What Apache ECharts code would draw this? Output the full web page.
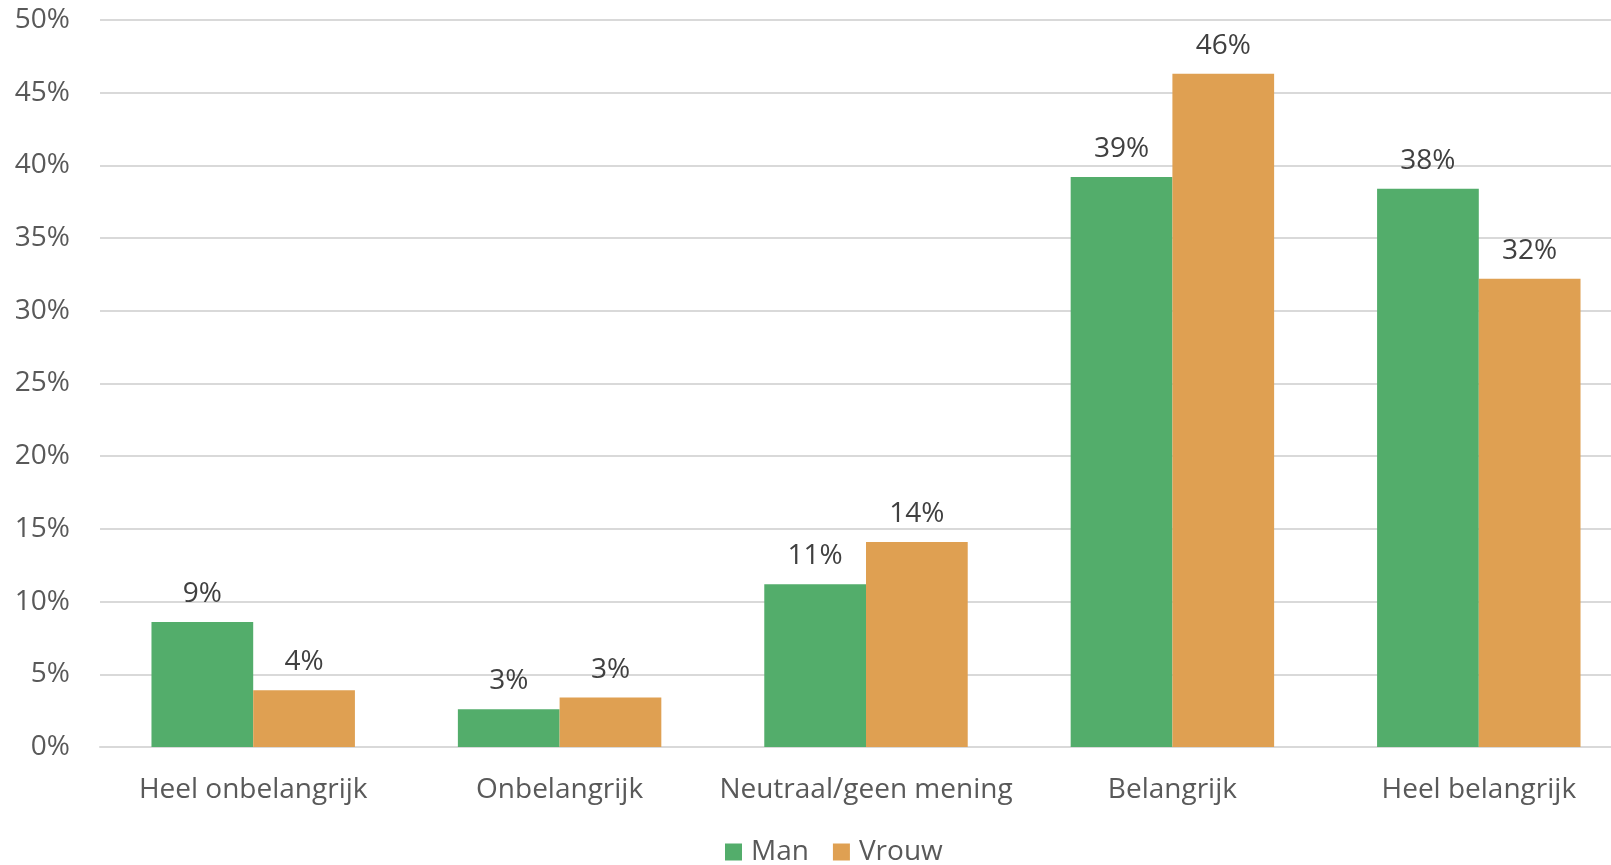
<!DOCTYPE html>
<html>
<head>
<meta charset="utf-8">
<script src="https://cdn.jsdelivr.net/npm/echarts@6/dist/echarts.min.js"></script>
<style>
  html, body { margin: 0; padding: 0; background: #fff; overflow: hidden; }
  /* plot runs a bit past the right edge of the window, like the original */
  #chart { width: 1632px; height: 865px; }
</style>
</head>
<body>
<div id="chart"></div>
<script>
const categories = ['Heel onbelangrijk', 'Onbelangrijk', 'Neutraal/geen mening', 'Belangrijk', 'Heel belangrijk']
const manValues = [8.6, 2.6, 11.2, 39.2, 38.4]
const vrouwValues = [3.9, 3.4, 14.1, 46.3, 32.2]
const yTicks = [0, 5, 10, 15, 20, 25, 30, 35, 40, 45, 50]

const font = '"Open Sans", "Noto Sans", sans-serif'

const chart = echarts.init(document.getElementById('chart'))

function barSeries(name, data, color) {
  return {
    name: name,
    type: 'bar',
    data: data,
    barGap: 0,
    barCategoryGap: '33.6%',
    itemStyle: { color: color },
    label: {
      show: true,
      position: 'top',
      distance: 14,
      color: '#404040',
      fontFamily: font,
      fontSize: 28,
      formatter: p => Math.round(p.value) + '%'
    }
  }
}

chart.setOption({
  animation: false,
  textStyle: { fontFamily: font },
  grid: {
    left: 100,
    right: 0,
    top: 20,
    bottom: 118,
    containLabel: false
  },
  legend: {
    bottom: -6,
    left: 720,
    itemWidth: 17,
    itemHeight: 17,
    itemGap: 24,
    icon: 'rect',
    textStyle: { color: '#595959', fontSize: 28, fontFamily: font, padding: [0, 0, 0, 4] },
    data: ['Man', 'Vrouw']
  },
  xAxis: {
    type: 'category',
    data: categories,
    axisTick: { show: false },
    axisLine: { lineStyle: { color: '#d9d9d9', width: 2 } },
    axisLabel: { color: '#595959', fontSize: 28, fontFamily: font, margin: 29, interval: 0 }
  },
  yAxis: {
    type: 'value',
    min: yTicks[0],
    max: yTicks[yTicks.length - 1],
    interval: 5,
    axisLine: { show: false },
    axisTick: { show: false },
    splitLine: { lineStyle: { color: '#d9d9d9', width: 2 } },
    axisLabel: {
      color: '#595959',
      fontSize: 28,
      fontFamily: font,
      margin: 30,
      formatter: v => v + '%'
    }
  },
  series: [
    barSeries('Man', manValues, '#53ad6b'),
    barSeries('Vrouw', vrouwValues, '#dfa052')
  ]
})
</script>
</body>
</html>
